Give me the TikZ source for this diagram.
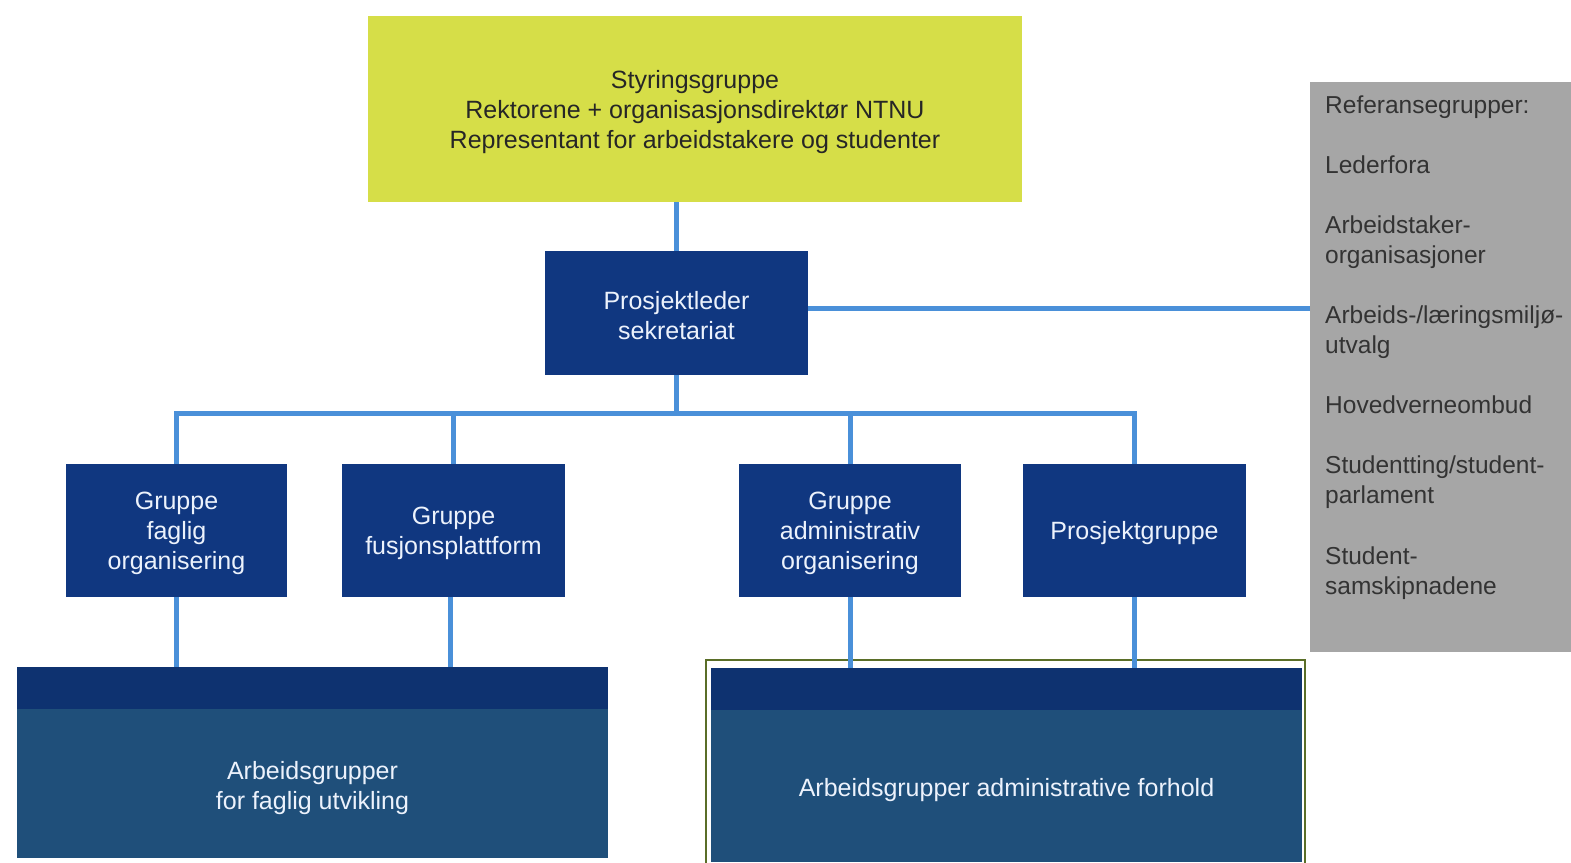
\documentclass[tikz,border=0pt]{standalone}
\usepackage{fontspec}
\setmainfont{Liberation Sans}
\usetikzlibrary{calc}
\definecolor{ylw}{RGB}{214,222,72}
\definecolor{dblue}{RGB}{16,55,128}
\definecolor{lblue}{RGB}{74,144,217}
\definecolor{gry}{RGB}{166,166,166}
\definecolor{lowblue}{RGB}{31,79,122}
\definecolor{bandblue}{RGB}{14,50,112}
\definecolor{olive}{RGB}{90,110,40}
\definecolor{btext}{RGB}{236,242,252}
\begin{document}
\begin{tikzpicture}[x=1pt,y=-1pt,
  txt/.style={font=\fontsize{25}{30}\selectfont, align=center},
  bluebox/.style={rectangle, inner sep=0pt, fill=dblue, text=btext, txt},
  conn/.style={draw=lblue, line width=5pt},
  reftext/.style={anchor=base west, inner sep=0pt, text=black!80, font=\fontsize{24.5}{30}\selectfont}
]
\useasboundingbox (0,0) rectangle (1571,862);
\fill[white] (0,0) rectangle (1571,862);

% top steering group
\node[rectangle, inner sep=0pt, fill=ylw, text=black!85, txt, minimum width=654pt, minimum height=186pt] (top) at (695,109)
  {\rule{0pt}{24pt}Styringsgruppe\\Rektorene + organisasjonsdirektør NTNU\\Representant for arbeidstakere og studenter};

% project leader
\node[bluebox, minimum width=263pt, minimum height=124pt] (pl) at (676.5,313) {\rule{0pt}{24pt}Prosjektleder\\sekretariat};

% reference groups
\node[rectangle, inner sep=0pt, fill=gry, minimum width=261pt, minimum height=570pt] (ref) at (1440.5,367) {};

% level-2 groups
\node[bluebox, minimum width=221pt, minimum height=133pt] (g1) at (176.5,530.5) {\rule{0pt}{24pt}Gruppe\\faglig\\organisering};
\node[bluebox, minimum width=223pt, minimum height=133pt] (g2) at (453.5,530.5) {\rule{0pt}{24pt}Gruppe\\fusjonsplattform};
\node[bluebox, minimum width=222pt, minimum height=133pt] (g3) at (850,530.5) {\rule{0pt}{24pt}Gruppe\\administrativ\\organisering};
\node[bluebox, minimum width=223pt, minimum height=133pt] (g4) at (1134.5,530.5) {\rule{0pt}{24pt}Prosjektgruppe};

% bottom boxes
\node[rectangle, inner sep=0pt, fill=lowblue, minimum width=591pt, minimum height=191pt] (bl) at (312.5,762.5) {};
\fill[bandblue] (bl.north west) rectangle ($(bl.north east)+(0,42)$);
\node[txt, text=btext] (bltext) at (312.5,788) {Arbeidsgrupper\\for faglig utvikling};

\node[rectangle, inner sep=0pt, fill=lowblue, minimum width=591pt, minimum height=194pt] (br) at (1006.5,765) {};
\fill[bandblue] (br.north west) rectangle ($(br.north east)+(0,42)$);
\draw[olive, line width=1.5pt] (706,660) rectangle (1305,864);
\node[txt, text=btext] (brtext) at (1006.5,790) {Arbeidsgrupper administrative forhold};

% connectors
\coordinate (bus) at (676.5,413);
\draw[conn] (pl.north) -- (pl.north |- top.south);
\draw[conn] (pl.south) -- (bus);
\draw[conn] (g1.north) -- (g1.north |- bus) -- (g4.north |- bus) -- (g4.north);
\draw[conn] (g2.north) -- (g2.north |- bus);
\draw[conn] (g3.north) -- (g3.north |- bus);
\draw[conn] ($(pl.east)+(0,-5)$) -- ($(pl.east -| ref.west)+(0,-5)$);
\draw[conn] (g1.south) -- (g1.south |- bl.north);
\draw[conn] ([xshift=-3pt]g2.south) -- ([xshift=-3pt]g2.south |- bl.north);
\draw[conn] (g3.south) -- (g3.south |- br.north);
\draw[conn] (g4.south) -- (g4.south |- br.north);

% reference group text
\node[reftext] (r1) at (1325,113) {Referansegrupper:};
\node[reftext] (r2) at (1325,173) {Lederfora};
\node[reftext] (r3) at (1325,233) {Arbeidstaker-};
\node[reftext] (r4) at (1325,263) {organisasjoner};
\node[reftext] (r5) at (1325,323) {Arbeids-/læringsmiljø-};
\node[reftext] (r6) at (1325,353) {utvalg};
\node[reftext] (r7) at (1325,413) {Hovedverneombud};
\node[reftext] (r8) at (1325,473) {Studentting/student-};
\node[reftext] (r9) at (1325,503) {parlament};
\node[reftext] (r10) at (1325,564) {Student-};
\node[reftext] (r11) at (1325,594) {samskipnadene};
\end{tikzpicture}
\end{document}
